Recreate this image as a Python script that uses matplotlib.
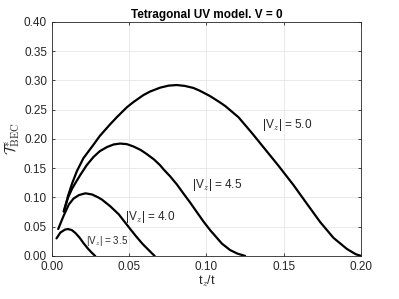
import matplotlib.pyplot as plt
import numpy as np

plt.rcParams['font.family'] = ['Liberation Sans', 'DejaVu Sans']
plt.rcParams['mathtext.fontset'] = 'cm'

# curves: (t_z/t, T*_BEC)
tz_50 = [0.0077, 0.0105, 0.0131, 0.0162, 0.0204, 0.0269, 0.031, 0.0377, 0.042, 0.0485, 0.0528,
         0.0593, 0.0636, 0.070, 0.0755, 0.0808, 0.086, 0.0916, 0.0959, 0.1024, 0.1089, 0.1122,
         0.1207, 0.1294, 0.138, 0.1466, 0.1563, 0.165, 0.1735, 0.1821, 0.1908, 0.1965, 0.2]
T_50 = [0.076, 0.103, 0.124, 0.145, 0.167, 0.190, 0.205, 0.225, 0.237, 0.254, 0.263,
        0.275, 0.281, 0.2875, 0.291, 0.292, 0.2905, 0.287, 0.282, 0.273, 0.262, 0.256,
        0.237, 0.210, 0.182, 0.154, 0.121, 0.089, 0.058, 0.031, 0.012, 0.003, 0.0]

tz_45 = [0.0077, 0.0105, 0.0131, 0.0153, 0.0183, 0.0225, 0.0269, 0.031, 0.0356, 0.040, 0.0442,
         0.0485, 0.0528, 0.0575, 0.0614, 0.066, 0.070, 0.0722, 0.0765, 0.0809, 0.085, 0.0895,
         0.094, 0.098, 0.1024, 0.1067, 0.110, 0.1153, 0.120, 0.125]
T_45 = [0.076, 0.100, 0.115, 0.125, 0.138, 0.155, 0.169, 0.179, 0.186, 0.1905, 0.192,
        0.191, 0.187, 0.181, 0.174, 0.165, 0.155, 0.148, 0.136, 0.122, 0.107, 0.091,
        0.074, 0.059, 0.044, 0.031, 0.021, 0.010, 0.004, 0.0]

tz_40 = [0.0041, 0.0075, 0.011, 0.014, 0.0175, 0.0217, 0.026, 0.030, 0.0325, 0.0377, 0.0433,
         0.048, 0.054, 0.0585, 0.0615, 0.0649, 0.0665]
T_40 = [0.046, 0.068, 0.088, 0.098, 0.104, 0.107, 0.105, 0.100, 0.096, 0.085, 0.071,
        0.055, 0.035, 0.021, 0.013, 0.004, 0.0]

tz_35 = [0.0030, 0.0055, 0.0085, 0.0105, 0.0130, 0.0153, 0.018, 0.0204, 0.0235, 0.026, 0.028]
T_35 = [0.030, 0.040, 0.045, 0.046, 0.044, 0.039, 0.031, 0.022, 0.012, 0.005, 0.0]

labels = ['|V$_z$| = 5.0', '|V$_z$| = 4.5', '|V$_z$| = 4.0', '|V$_z$| = 3.5']
label_pos = [(0.136, 0.224), (0.0905, 0.121), (0.0474, 0.067), (0.0222, 0.026)]
label_size = [8.5, 8.5, 8.5, 7]

fig = plt.figure(figsize=(3.99, 2.99), dpi=100)
ax = fig.add_axes([0.13, 0.144, 0.775, 0.783])

for x, y in [(tz_50, T_50), (tz_45, T_45), (tz_40, T_40), (tz_35, T_35)]:
    ax.plot(x, y, color='black', lw=1.6, solid_capstyle='round', solid_joinstyle='round')

for lab, (x, y), fs in zip(labels, label_pos, label_size):
    ax.text(x, y, lab, fontsize=fs, ha='left', va='center', color='#262626')

ax.set_xlim(0, 0.2)
ax.set_ylim(0, 0.4)
ax.set_xticks(np.arange(0, 0.201, 0.05))
ax.set_yticks(np.arange(0, 0.401, 0.05))
ax.xaxis.set_major_formatter(plt.FormatStrFormatter('%.2f'))
ax.yaxis.set_major_formatter(plt.FormatStrFormatter('%.2f'))
ax.grid(True, color='#e6e6e6', lw=0.6)
ax.set_axisbelow(True)
ax.tick_params(direction='in', top=True, right=True, labelsize=8.5, colors='#262626',
               length=2.5, width=0.6)
for s in ax.spines.values():
    s.set_color('#262626')
    s.set_linewidth(0.6)

ax.set_title('Tetragonal UV model. V = 0', fontsize=8.5, fontweight='bold', pad=3)
ax.set_xlabel('t$_z$/t', fontsize=9, color='#262626', labelpad=1)
ax.set_ylabel(r'$\mathcal{T}^{*}_{\rm BEC}$', fontsize=11, color='#262626', labelpad=1)

fig.savefig('out.png', dpi=100)
